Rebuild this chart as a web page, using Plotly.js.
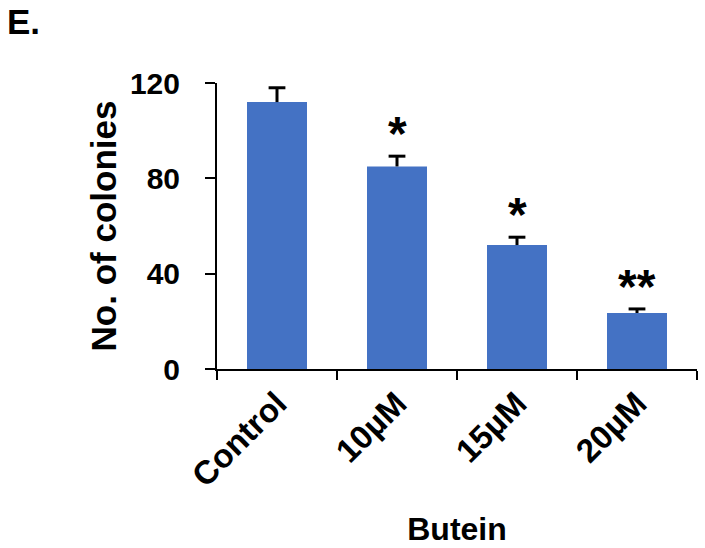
<!DOCTYPE html>
<html>
<head>
<meta charset="utf-8">
<script src="https://cdn.plot.ly/plotly-3.0.1.min.js"></script>
<style>html,body{margin:0;padding:0;background:#fff;}#chart{width:705px;height:548px;}</style>
</head>
<body>
<div id="chart"></div>
<script>
const categories = ['Control', '10\u00b5M', '15\u00b5M', '20\u00b5M'];
const colonies = [112, 85, 52, 23.5];
const errors = [6, 4.3, 3.3, 1.7];
const significance = ['', '*', '*', '**'];
const yTicks = [0, 40, 80, 120];

const FONT = 'Arial, "Liberation Sans", sans-serif';
const errTop = colonies.map((v, i) => v + errors[i]);

const bars = {
  type: 'bar',
  x: categories,
  y: colonies,
  width: 0.5,
  marker: {color: '#4472C4', line: {width: 0}},
  error_y: {type: 'data', array: errors, symmetric: false, arrayminus: errors.map(() => 0), color: '#000', thickness: 3, width: 0},
  hoverinfo: 'none'
};

const caps = {
  type: 'scatter', mode: 'markers',
  x: categories, y: errTop,
  marker: {symbol: 'line-ew', size: 12, line: {color: '#000', width: 3}, color: '#000'},
  hoverinfo: 'none'
};

const annotations = categories.map((c, i) => ({
  x: c, y: errTop[i], xref: 'x', yref: 'y',
  text: significance[i] ? '<b>' + significance[i] + '</b>' : '',
  showarrow: false, yanchor: 'bottom', yshift: -6,
  font: {family: FONT, size: 48, color: '#000'}
})).filter(a => a.text);

annotations.push({
  xref: 'paper', yref: 'paper', x: 0, y: 1, xanchor: 'left', yanchor: 'top',
  xshift: -212, yshift: 83,
  text: '<b>E.</b>', showarrow: false, font: {family: FONT, size: 35, color: '#000'}
});

const layout = {
  width: 705, height: 548,
  margin: {l: 217, r: 8, t: 83, b: 179, pad: 0},
  paper_bgcolor: '#fff', plot_bgcolor: '#fff',
  showlegend: false,
  font: {family: FONT, color: '#000'},
  xaxis: {
    type: 'category', tickangle: -45, showline: true, linecolor: '#000', linewidth: 2,
    ticks: 'outside', ticklen: 9, tickwidth: 2, tickcolor: '#000', tickson: 'boundaries',
    showgrid: false, zeroline: false,
    tickfont: {family: FONT, size: 33, color: '#000', weight: 'bold'},
    title: {text: '<b>Butein</b>', font: {family: FONT, size: 32, color: '#000'}, standoff: 25}
  },
  yaxis: {
    range: [0, 120], tickvals: yTicks, ticktext: yTicks.map(String),
    showline: true, linecolor: '#000', linewidth: 2,
    ticks: 'outside', ticklen: 10, tickwidth: 2, tickcolor: '#000', ticklabelstandoff: 19,
    showgrid: false, zeroline: false,
    tickfont: {family: FONT, size: 30, color: '#000', weight: 'bold'},
    title: {text: '<b>No. of colonies</b>', font: {family: FONT, size: 35, color: '#000'}, standoff: 3}
  },
  annotations: annotations
};

Plotly.newPlot('chart', [bars, caps], layout, {displayModeBar: false, staticPlot: true});
</script>
</body>
</html>
